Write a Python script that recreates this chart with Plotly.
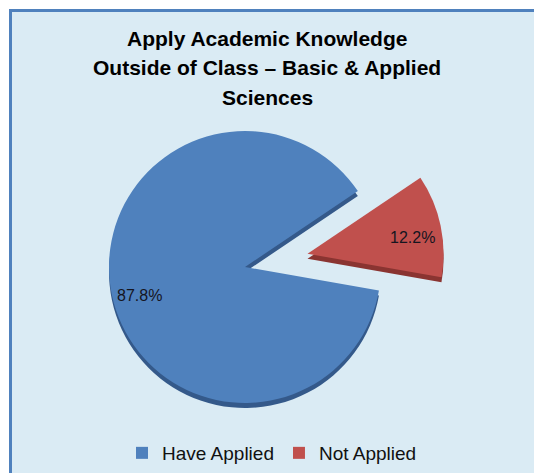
import math
import plotly.graph_objects as go

labels = ["Have Applied", "Not Applied"]
values = [87.8, 12.2]
colors = ["#4F81BD", "#C0504D"]
side_colors = ["#34598A", "#8A3431"]
pulls = [0, 0.47]
title_lines = ["Apply Academic Knowledge", "Outside of Class – Basic & Applied", "Sciences"]

W, H = 534, 473
ROT = 100
cx, cy, rad = 245, 267, 136
box = 2 * rad * (1 + max(pulls))
off = 5 / H
dx = [(cx - box / 2) / W, (cx + box / 2) / W]
ybot = H - cy
dy = [max(off, (ybot - box / 2) / H), (ybot + box / 2) / H]

FONT = "Liberation Sans, Arial, sans-serif"

fig = go.Figure()
# side (3D edge) layer
fig.add_trace(go.Pie(
    labels=labels, values=values, sort=False, direction="clockwise", rotation=ROT,
    pull=pulls, marker=dict(colors=side_colors, line=dict(width=0)),
    textinfo="none", hoverinfo="skip", showlegend=False,
    domain=dict(x=dx, y=[dy[0] - off, dy[1] - off]),
))
# top face
fig.add_trace(go.Pie(
    labels=labels, values=values, sort=False, direction="clockwise", rotation=ROT,
    pull=pulls, marker=dict(colors=colors, line=dict(width=0)),
    textinfo="none", hoverinfo="label+percent",
    domain=dict(x=dx, y=dy),
))

ys = [38, 68, 97]
annotations = [
    dict(text="<b>" + t + "</b>", x=267 / W, y=1 - yy / H, xref="paper", yref="paper",
         xanchor="center", yanchor="middle", showarrow=False,
         font=dict(family=FONT, size=21, color="#000000"))
    for t, yy in zip(title_lines, ys)
]

# data labels placed along each slice's bisector, out toward the rim
total = sum(values)
start = ROT
for v, p in zip(values, pulls):
    sweep = 360 * v / total
    mid = math.radians(start + sweep / 2)
    dist = (p + 0.79) * rad
    lx = cx + dist * math.sin(mid)
    ly = cy - dist * math.cos(mid) + 6
    annotations.append(dict(text=f"{v:.1f}%", x=lx / W, y=1 - ly / H, xref="paper", yref="paper",
                            xanchor="center", yanchor="middle", showarrow=False,
                            font=dict(family=FONT, size=16, color="#15151f")))
    start += sweep

bx, by = 10.5 / W, 1 - 10.5 / H
fig.update_layout(
    width=W, height=H,
    margin=dict(l=0, r=0, t=0, b=0),
    paper_bgcolor="#FFFFFF",
    annotations=annotations,
    shapes=[
        dict(type="rect", xref="paper", yref="paper", x0=bx, x1=1.0, y0=0.0, y1=by,
             fillcolor="#DAEBF4", line=dict(width=0), layer="below"),
        dict(type="path", xref="paper", yref="paper", path=f"M {bx},0 L {bx},{by} L 1,{by}",
             line=dict(color="#4F81BD", width=3), layer="below"),
    ],
    legend=dict(orientation="h", x=272 / W, xanchor="center", y=20 / H, yanchor="middle",
                font=dict(family=FONT, size=19, color="#111111"),
                bgcolor="rgba(0,0,0,0)"),
    showlegend=True,
)

fig.write_html("out.html", config={"displayModeBar": False},
               post_script="document.body.style.margin='0';document.body.style.overflow='hidden';")
